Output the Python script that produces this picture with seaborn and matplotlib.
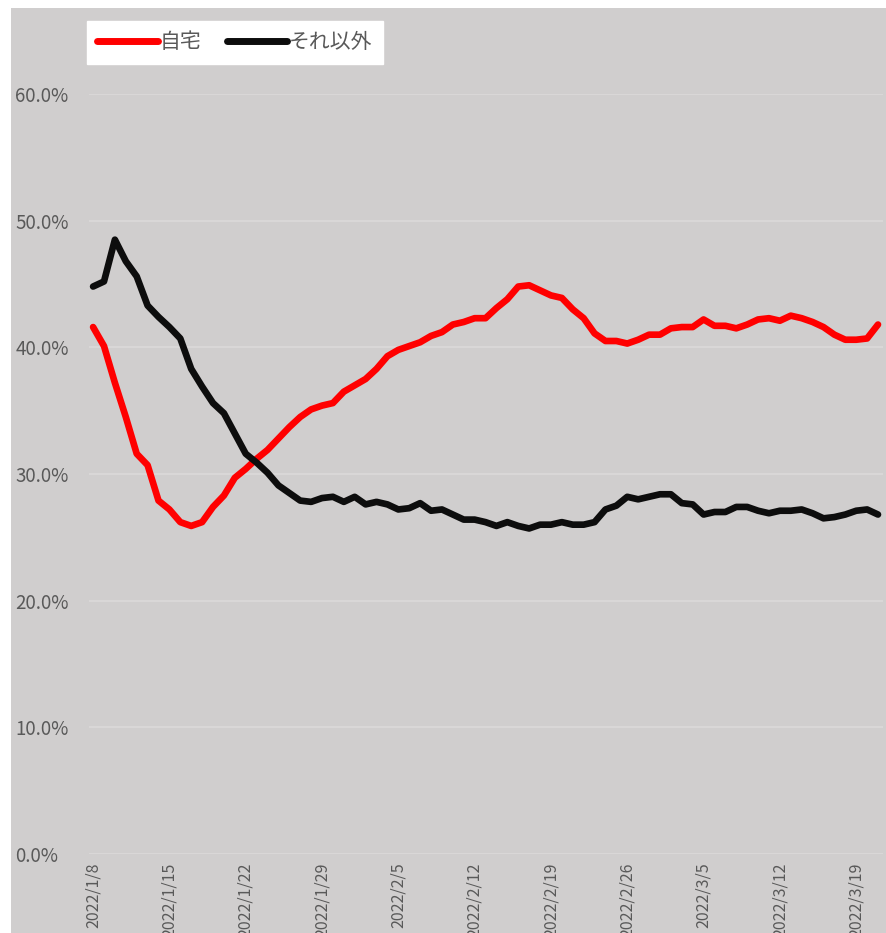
import numpy as np
import pandas as pd
import matplotlib
matplotlib.use('Agg')
import matplotlib.pyplot as plt
from matplotlib.patches import Rectangle
from matplotlib.ticker import PercentFormatter
import seaborn as sns

sns.set_theme(style='white')
plt.rcParams['font.family'] = ['Noto Sans CJK JP', 'DejaVu Sans']

# data (share by location), 2022/1/8 - 2022/3/21
dates = pd.date_range('2022-01-08', '2022-03-21', freq='D')
home = [41.6, 40.1, 37.2, 34.5, 31.6, 30.7, 27.9, 27.2, 26.2, 25.9,
        26.2, 27.4, 28.3, 29.7, 30.4, 31.2, 31.9, 32.8, 33.7, 34.5,
        35.1, 35.4, 35.6, 36.5, 37.0, 37.5, 38.3, 39.3, 39.8, 40.1,
        40.4, 40.9, 41.2, 41.8, 42.0, 42.3, 42.3, 43.1, 43.8, 44.8,
        44.9, 44.5, 44.1, 43.9, 43.0, 42.3, 41.1, 40.5, 40.5, 40.3,
        40.6, 41.0, 41.0, 41.5, 41.6, 41.6, 42.2, 41.7, 41.7, 41.5,
        41.8, 42.2, 42.3, 42.1, 42.5, 42.3, 42.0, 41.6, 41.0, 40.6,
        40.6, 40.7, 41.8]
other = [44.8, 45.2, 48.5, 46.8, 45.6, 43.3, 42.4, 41.6, 40.7, 38.3,
         36.9, 35.6, 34.8, 33.2, 31.6, 30.9, 30.1, 29.1, 28.5, 27.9,
         27.8, 28.1, 28.2, 27.8, 28.2, 27.6, 27.8, 27.6, 27.2, 27.3,
         27.7, 27.1, 27.2, 26.8, 26.4, 26.4, 26.2, 25.9, 26.2, 25.9,
         25.7, 26.0, 26.0, 26.2, 26.0, 26.0, 26.2, 27.2, 27.5, 28.2,
         28.0, 28.2, 28.4, 28.4, 27.7, 27.6, 26.8, 27.0, 27.0, 27.4,
         27.4, 27.1, 26.9, 27.1, 27.1, 27.2, 26.9, 26.5, 26.6, 26.8,
         27.1, 27.2, 26.8]
series_names = ['自宅', 'それ以外']
colors = ['#FF0000', '#0D0D0D']

df = pd.DataFrame({'date': dates, series_names[0]: np.array(home) / 100,
                   series_names[1]: np.array(other) / 100})
long_df = df.melt(id_vars='date', var_name='place', value_name='share')

bg = '#D0CECE'
text_col = '#595959'

fig = plt.figure(figsize=(8.87, 9.33), dpi=100, facecolor='white')
fig.add_artist(Rectangle((11 / 887, 0), 1, 1 - 8 / 933, transform=fig.transFigure,
                         facecolor=bg, edgecolor='none', zorder=0))
ax = fig.add_axes([89 / 887, 79 / 933, 794 / 887, 760 / 933])
ax.set_facecolor(bg)

sns.lineplot(data=long_df, x='date', y='share', hue='place', hue_order=series_names,
             palette=colors, linewidth=4.8, ax=ax, legend=False,
             solid_capstyle='round', solid_joinstyle='round')

ax.set_ylim(0, 0.6)
ax.set_yticks(np.arange(0, 0.61, 0.1))
ax.yaxis.set_major_formatter(PercentFormatter(1.0, decimals=1))
ax.grid(axis='y', color='#DCDADA', linewidth=1.2)
ax.set_axisbelow(True)

ax.set_xlim(dates[0] - pd.Timedelta(hours=9), dates[-1] + pd.Timedelta(hours=11))
tick_dates = dates[::7]
ax.set_xticks(tick_dates)
ax.set_xticklabels([f'{d.year}/{d.month}/{d.day}' for d in tick_dates],
                   rotation=90, fontsize=11.5, color=text_col, va='top')
ax.tick_params(axis='x', length=0, pad=6)
ax.tick_params(axis='y', length=0, pad=53, labelsize=13.5, labelcolor=text_col)
for lbl in ax.get_yticklabels():
    lbl.set_horizontalalignment('left')
ax.set_xlabel('')
ax.set_ylabel('')
for s in ax.spines.values():
    s.set_visible(False)

handles = [plt.Line2D([], [], color=c, linewidth=5, solid_capstyle='round') for c in colors]
leg = fig.legend(handles, series_names, loc='upper left', ncol=2,
                 bbox_to_anchor=(87 / 887, 1 - 21 / 933), fontsize=15,
                 frameon=True, fancybox=False, handlelength=2.9, handletextpad=0.1,
                 columnspacing=1.2, borderpad=0.5, borderaxespad=0,
                 labelcolor=text_col)
leg.get_frame().set_facecolor('white')
leg.get_frame().set_edgecolor('white')
leg.get_frame().set_alpha(1)

fig.savefig('out.png', dpi=100, facecolor=fig.get_facecolor())
